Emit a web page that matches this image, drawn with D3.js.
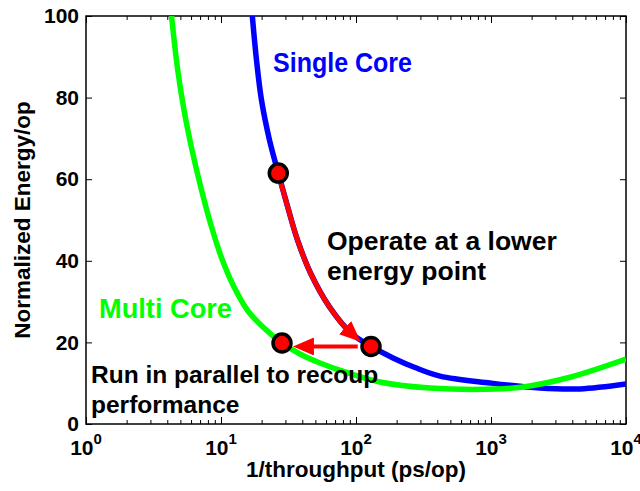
<!DOCTYPE html>
<html>
<head>
<meta charset="utf-8">
<script src="https://cdn.jsdelivr.net/npm/d3@7"></script>
<style>
  body { margin: 0; background: #fff; }
  text { font-family: "Liberation Sans", Arial, Helvetica, sans-serif; font-weight: bold; }
</style>
</head>
<body>
<svg id="chart" width="640" height="491"></svg>
<script>
// Single core: energy per op versus time per op
const singleX = [17.06, 18.32, 19.95, 22.87, 26.57, 31.62, 36.87, 46.03, 63.6, 91.8, 129.2, 188, 273.5, 419, 984, 2307, 4560, 10000];
const singleY = [100, 89.2, 79.4, 69.6, 61.5, 52.5, 45.1, 37.0, 28.7, 22.3, 19.0, 16.2, 13.85, 11.75, 10.05, 8.8, 8.6, 9.8];

// Multi core: energy per op versus time per op
const multiX = [4.30, 4.76, 5.32, 6.10, 7.11, 8.43, 10.17, 12.49, 15.85, 20.82, 28.3, 38.5, 54.1, 82.9, 150.6, 353, 1108, 1726, 3656, 10000];
const multiY = [100, 87.25, 76.96, 67.16, 57.84, 48.77, 40.44, 33.58, 27.70, 23.53, 19.85, 17.16, 14.95, 12.75, 10.29, 8.82, 8.58, 9.07, 11.27, 15.93];

// Operating points: start, lower-energy point, parallel point
const pointX = [26.57, 129.2, 28.3];
const pointY = [61.5, 19.0, 19.85];

// Arrow along the single-core curve (start x, tip x)
const slideFrom = 26.57, slideTip = 109;
// Horizontal arrow (start x, tip x, energy level)
const shiftX = [103, 34.1];
const shiftY = 19.0;

const xTickExps = [0, 1, 2, 3, 4];
const yTicks = [0, 20, 40, 60, 80, 100];

const labelSingle = "Single Core";
const labelMulti = "Multi Core";
const noteLower = ["Operate at a lower", "energy point"];
const noteParallel = ["Run in parallel to recoup", "performance"];
const xTitle = "1/throughput (ps/op)";
const yTitle = "Normalized Energy/op";

const svg = d3.select("#chart");
const L = 86, R = 626, T = 16, B = 424;

const x = d3.scaleLog().domain([1, 1e4]).range([L, R]);
const y = d3.scaleLinear().domain([0, 100]).range([B, T]);

// arrowhead marker
const defs = svg.append("defs");
defs.append("marker")
  .attr("id", "head")
  .attr("markerUnits", "userSpaceOnUse")
  .attr("viewBox", "0 0 21 18")
  .attr("markerWidth", 21).attr("markerHeight", 18)
  .attr("refX", 8).attr("refY", 9)
  .attr("orient", "auto")
  .append("path").attr("d", "M0,0L21,9L0,18Z").attr("fill", "#ff0000");

defs.append("clipPath").attr("id", "plot")
  .append("rect").attr("x", L).attr("y", T).attr("width", R - L).attr("height", B - T);

// axes with inward ticks
const majors = xTickExps.map(e => Math.pow(10, e));
const minors = [];
for (let e = 0; e < 4; e++) for (let k = 2; k <= 9; k++) minors.push(k * Math.pow(10, e));

function styleAxis(g) {
  g.select(".domain").remove();
  g.selectAll(".tick line").attr("stroke", "#000").attr("stroke-width", 1);
}

svg.append("g").attr("transform", `translate(0,${B})`)
  .call(d3.axisBottom(x).tickValues(majors).tickSize(-7).tickFormat(""))
  .call(styleAxis);
svg.append("g").attr("transform", `translate(0,${B})`)
  .call(d3.axisBottom(x).tickValues(minors).tickSize(-4).tickFormat(""))
  .call(styleAxis);
svg.append("g").attr("transform", `translate(0,${T})`)
  .call(d3.axisTop(x).tickValues(majors).tickSize(-7).tickFormat(""))
  .call(styleAxis);
svg.append("g").attr("transform", `translate(0,${T})`)
  .call(d3.axisTop(x).tickValues(minors).tickSize(-4).tickFormat(""))
  .call(styleAxis);

const yl = svg.append("g").attr("transform", `translate(${L},0)`)
  .call(d3.axisLeft(y).tickValues(yTicks).tickSize(-6).tickPadding(7).tickFormat(d3.format("d")))
  .call(styleAxis);
yl.selectAll(".tick text")
  .attr("font-family", "Liberation Sans, Arial, sans-serif")
  .attr("font-weight", "bold").attr("font-size", 21).attr("fill", "#000");

svg.append("g").attr("transform", `translate(${R},0)`)
  .call(d3.axisRight(y).tickValues(yTicks).tickSize(-6).tickFormat(""))
  .call(styleAxis);

// x tick labels as powers of ten
const xl = svg.append("g");
xTickExps.forEach(e => {
  const t = xl.append("text")
    .attr("x", x(Math.pow(10, e)))
    .attr("y", 455)
    .attr("text-anchor", "middle")
    .attr("font-size", 21)
    .attr("fill", "#000");
  t.append("tspan").text("10");
  t.append("tspan").attr("dy", -11).attr("font-size", 15).text(e);
});

// frame
svg.append("rect").attr("x", L).attr("y", T).attr("width", R - L).attr("height", B - T)
  .attr("fill", "none").attr("stroke", "#000").attr("stroke-width", 1.5);

// curves
const line = d3.line().x(d => x(d[0])).y(d => y(d[1])).curve(d3.curveCatmullRom.alpha(0.5));
const plot = svg.append("g").attr("clip-path", "url(#plot)");

const singlePath = plot.append("path")
  .datum(d3.zip(singleX, singleY))
  .attr("d", line)
  .attr("fill", "none").attr("stroke", "#0000ff").attr("stroke-width", 5.5)
  .attr("stroke-linejoin", "round");

plot.append("path")
  .datum(d3.zip(multiX, multiY))
  .attr("d", line)
  .attr("fill", "none").attr("stroke", "#00ff00").attr("stroke-width", 5.5)
  .attr("stroke-linejoin", "round");

// red arrow following the single-core curve
const node = singlePath.node();
const total = node.getTotalLength();
const samples = [];
for (let s = 0; s <= total; s += 0.5) samples.push([s, node.getPointAtLength(s)]);
const x0 = x(slideFrom), xTip = x(slideTip);
const sStart = samples.find(p => p[1].x >= x0)[0];
const sTip = samples.find(p => p[1].x >= xTip)[0];
const slidePts = samples.filter(p => p[0] >= sStart && p[0] <= sTip - 13).map(p => [p[1].x, p[1].y]);
svg.append("path")
  .attr("d", d3.line()(slidePts))
  .attr("fill", "none").attr("stroke", "#ff0000").attr("stroke-width", 5)
  .attr("marker-end", "url(#head)");

// horizontal arrow toward the parallel point
svg.append("line")
  .attr("x1", x(shiftX[0])).attr("y1", y(shiftY))
  .attr("x2", x(shiftX[1]) + 13).attr("y2", y(shiftY))
  .attr("stroke", "#ff0000").attr("stroke-width", 4)
  .attr("marker-end", "url(#head)");

// operating points
svg.append("g").selectAll("circle")
  .data(d3.zip(pointX, pointY))
  .join("circle")
  .attr("cx", d => x(d[0])).attr("cy", d => y(d[1]))
  .attr("r", 9)
  .attr("fill", "#ff0000").attr("stroke", "#000").attr("stroke-width", 3.5);

// labels
svg.append("text").attr("x", 273).attr("y", 72)
  .attr("font-family", "Lato, 'Open Sans', sans-serif").attr("font-size", 27)
  .attr("textLength", 139).attr("lengthAdjust", "spacingAndGlyphs")
  .attr("fill", "#0000ff").text(labelSingle);
svg.append("text").attr("x", 99).attr("y", 318)
  .attr("font-family", "Lato, 'Open Sans', sans-serif").attr("font-size", 27)
  .attr("textLength", 133).attr("lengthAdjust", "spacingAndGlyphs")
  .attr("fill", "#00ff00").text(labelMulti);

noteLower.forEach((s, i) => {
  svg.append("text").attr("x", 327).attr("y", 250 + i * 30)
    .attr("font-size", 26.5).attr("fill", "#000").text(s);
});
noteParallel.forEach((s, i) => {
  svg.append("text").attr("x", 91).attr("y", 383 + i * 29.5)
    .attr("font-size", 24.5).attr("fill", "#000").text(s);
});

// axis titles
svg.append("text").attr("x", 356).attr("y", 477)
  .attr("text-anchor", "middle").attr("font-size", 22.5).attr("fill", "#000").text(xTitle);
svg.append("text")
  .attr("transform", `translate(30,${(T + B) / 2}) rotate(-90)`)
  .attr("text-anchor", "middle").attr("font-size", 22.5).attr("fill", "#000").text(yTitle);
</script>
</body>
</html>
